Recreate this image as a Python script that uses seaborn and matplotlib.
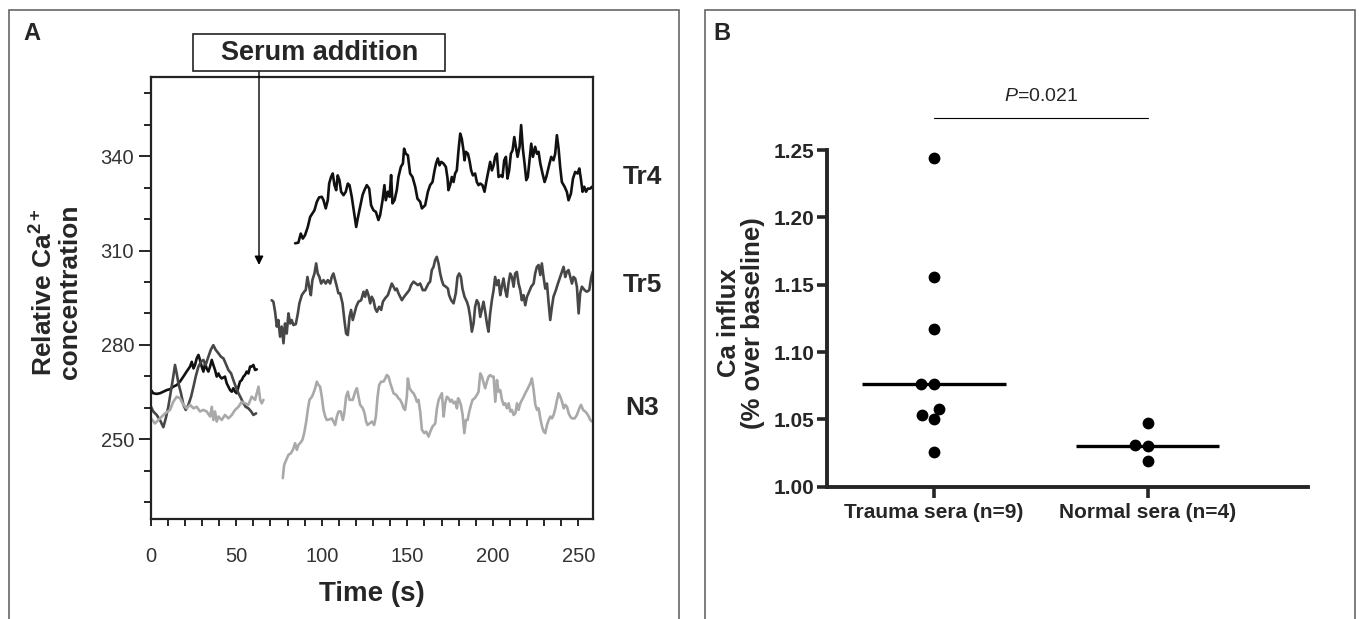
import pandas as pd
import matplotlib
matplotlib.use("Agg")
import matplotlib.pyplot as plt
from matplotlib.patches import Rectangle
from matplotlib.ticker import MultipleLocator, FormatStrFormatter
import seaborn as sns

# --- Panel A: calcium traces (time s, relative Ca2+) ---
TR4_PRE = [(0.2, 265.6), (1.5, 264.6), (3.5, 264.4), (5.4, 264.6), (7.4, 265.1), (9.3, 265.6),
           (11.3, 265.9), (13.2, 266.7), (15.2, 267.2), (17.1, 268.3), (19.1, 269.9), (21.0, 271.5),
           (23.0, 273.1), (24.0, 274.6), (25.0, 272.5), (25.9, 273.6), (26.9, 275.7), (27.9, 276.8),
           (28.8, 275.2), (29.8, 273.1), (30.8, 271.5), (31.8, 274.1), (32.7, 272.5), (33.7, 271.5),
           (34.7, 273.1), (35.7, 275.2), (36.6, 273.6), (37.6, 272.0), (38.6, 269.9), (39.6, 270.9),
           (40.5, 269.9), (41.5, 269.3), (43.4, 269.9), (44.4, 267.8), (45.4, 266.7), (46.4, 265.6),
           (47.4, 265.1), (48.3, 266.2), (49.3, 265.1), (50.3, 264.6), (51.3, 266.7), (52.2, 268.3),
           (53.2, 268.8), (54.2, 269.9), (55.1, 270.4), (56.1, 271.5), (57.1, 270.9), (58.1, 273.1),
           (59.0, 273.1), (60.0, 273.6), (61.0, 272.0), (62.0, 272.2)]
TR4_POST = [(84.4, 312.3), (86.3, 312.5), (87.7, 315.4), (88.9, 313.8), (90.2, 314.9), (91.8, 317.5),
            (93.2, 320.7), (94.5, 321.8), (95.7, 322.8), (97.1, 325.5), (98.4, 326.9), (100.0, 327.1),
            (101.0, 326.0), (102.3, 323.4), (103.5, 326.0), (104.3, 331.3), (105.4, 333.4), (106.4, 334.5),
            (107.4, 330.8), (108.4, 329.2), (109.3, 333.9), (110.3, 332.4), (111.3, 328.7), (112.7, 327.6),
            (114.0, 328.7), (115.2, 331.3), (116.2, 330.8), (117.5, 327.1), (118.9, 321.8), (120.1, 317.5),
            (121.0, 320.2), (122.4, 323.9), (123.8, 327.6), (124.9, 329.2), (126.3, 330.8), (127.7, 329.7),
            (128.8, 324.4), (130.2, 322.8), (131.6, 322.3), (133.1, 319.7), (134.1, 321.3), (135.5, 326.0),
            (136.6, 330.8), (137.4, 326.0), (138.6, 328.7), (139.6, 327.1), (140.5, 334.0), (141.3, 325.0),
            (142.5, 326.0), (143.8, 329.2), (144.8, 333.4), (146.2, 336.6), (147.4, 337.7), (148.1, 342.4),
            (149.1, 340.8), (150.3, 340.3), (151.6, 334.5), (153.0, 333.4), (154.6, 330.3), (155.9, 326.5),
            (157.5, 325.5), (158.5, 323.4), (160.4, 324.4), (162.0, 328.7), (163.3, 330.8), (164.7, 331.8),
            (165.9, 335.5), (166.8, 337.7), (167.8, 339.3), (168.8, 337.1), (169.8, 338.2), (171.1, 337.7),
            (172.5, 336.6), (173.5, 332.9), (174.0, 329.2), (175.0, 330.8), (176.0, 333.4), (177.0, 331.8),
            (177.9, 334.5), (178.9, 335.5), (179.9, 341.9), (180.9, 347.2), (181.8, 345.6), (182.8, 341.9),
            (183.4, 338.7), (184.2, 341.4), (185.4, 340.8), (186.3, 338.7), (187.3, 335.5), (188.3, 333.9),
            (189.6, 334.5), (190.6, 331.8), (191.6, 330.8), (192.6, 331.3), (193.9, 330.8), (195.1, 328.7),
            (196.1, 331.8), (197.4, 335.5), (198.4, 338.2), (199.4, 335.5), (200.4, 337.1), (201.3, 339.8),
            (202.3, 340.8), (203.3, 333.4), (204.6, 333.9), (205.6, 333.4), (206.6, 338.7), (207.6, 339.8),
            (208.5, 332.9), (209.5, 335.5), (210.5, 340.8), (211.5, 341.9), (212.5, 346.1), (213.4, 343.0),
            (214.4, 339.8), (215.6, 343.0), (216.5, 349.9), (217.5, 342.4), (218.5, 337.7), (219.5, 332.4),
            (220.4, 333.4), (221.4, 338.7), (222.4, 344.0), (223.4, 339.8), (224.7, 343.0), (225.7, 340.8),
            (226.7, 341.4), (227.7, 337.7), (229.0, 334.5), (230.2, 331.8), (231.2, 333.4), (232.1, 335.5),
            (233.1, 337.7), (234.1, 339.8), (235.4, 338.7), (236.4, 340.8), (237.4, 346.7), (238.4, 342.4),
            (239.3, 336.6), (240.3, 331.8), (241.9, 330.3), (243.2, 328.7), (244.2, 326.0), (245.6, 328.1),
            (246.8, 332.9), (248.1, 335.0), (249.5, 334.5), (250.5, 336.1), (251.4, 332.9), (252.4, 328.7),
            (253.4, 330.3), (254.4, 328.7), (255.5, 329.7), (256.9, 329.7), (257.9, 330.3)]

TR5_PRE = [(0.2, 260.3), (1.5, 258.8), (3.5, 257.7), (5.4, 256.1), (7.4, 253.8), (8.8, 256.6),
           (10.3, 260.3), (11.9, 265.6), (13.2, 269.9), (14.2, 273.6), (15.2, 270.9), (16.2, 267.8),
           (17.7, 264.6), (19.1, 260.9), (20.5, 259.3), (22.0, 260.9), (23.6, 263.5), (25.0, 266.7),
           (26.3, 269.9), (27.9, 273.1), (29.4, 274.6), (30.8, 275.2), (32.1, 273.6), (33.7, 276.2),
           (35.1, 278.4), (36.6, 279.9), (38.0, 278.4), (39.6, 277.3), (41.1, 276.2), (42.5, 275.7),
           (43.8, 274.1), (45.4, 272.0), (47.0, 270.9), (48.3, 268.8), (49.7, 266.7), (51.3, 264.6),
           (52.8, 263.0), (54.2, 261.4), (55.5, 260.3), (57.1, 259.8), (58.7, 258.8), (60.0, 257.7),
           (61.6, 258.2)]
TR5_POST = [(70.7, 294.2), (71.7, 293.7), (72.7, 290.5), (73.7, 285.8), (74.6, 287.9), (75.6, 282.6),
            (76.6, 285.8), (77.6, 280.5), (78.5, 286.8), (79.5, 283.6), (80.5, 290.0), (81.5, 286.8),
            (82.4, 287.9), (83.4, 286.3), (84.8, 286.6), (86.0, 290.0), (86.9, 293.2), (88.3, 295.8),
            (89.7, 296.9), (90.6, 297.4), (91.6, 301.6), (92.6, 298.5), (93.6, 295.8), (94.5, 300.6),
            (95.7, 302.7), (96.7, 305.9), (97.6, 302.7), (98.6, 301.6), (99.6, 299.5), (101.0, 300.6),
            (102.3, 299.5), (103.5, 300.6), (104.9, 299.5), (105.8, 301.6), (106.8, 302.7), (107.8, 300.6),
            (108.8, 298.5), (109.7, 296.4), (110.7, 296.4), (112.1, 293.2), (113.2, 287.9), (114.2, 283.6),
            (115.2, 283.1), (116.2, 288.9), (117.1, 291.1), (118.1, 287.9), (119.1, 290.0), (120.1, 292.1),
            (121.4, 293.7), (123.0, 294.2), (124.4, 296.9), (125.3, 295.3), (126.3, 297.4), (127.3, 295.8),
            (128.3, 293.2), (129.2, 295.3), (130.2, 294.2), (131.2, 291.6), (132.2, 290.5), (133.5, 292.1),
            (134.7, 291.1), (135.7, 293.7), (137.0, 294.8), (138.6, 295.8), (139.9, 297.9), (140.9, 299.5),
            (141.9, 298.5), (142.9, 297.4), (143.8, 297.9), (144.8, 296.4), (145.8, 295.3), (146.8, 294.2),
            (148.1, 295.3), (149.7, 296.4), (151.1, 297.4), (152.2, 299.0), (153.6, 300.1), (155.0, 299.5),
            (156.1, 299.0), (157.5, 299.5), (159.0, 297.4), (160.4, 297.4), (161.4, 298.5), (162.3, 299.5),
            (163.3, 300.1), (164.3, 303.8), (165.3, 304.8), (166.2, 306.9), (167.2, 308.0), (168.2, 305.9),
            (169.2, 302.7), (170.1, 300.6), (171.1, 299.0), (172.5, 298.5), (173.7, 297.9), (174.4, 295.8),
            (175.6, 294.2), (177.0, 293.2), (178.3, 296.4), (179.3, 301.6), (180.3, 302.7), (181.3, 301.6),
            (182.2, 297.9), (183.4, 295.3), (184.8, 293.7), (185.7, 292.1), (186.7, 288.9), (187.7, 284.2),
            (188.7, 286.8), (189.6, 292.1), (190.6, 294.2), (191.6, 293.2), (192.6, 288.9), (193.5, 291.1),
            (194.5, 293.7), (195.5, 290.5), (196.5, 286.8), (197.4, 284.2), (198.4, 290.0), (199.4, 294.2),
            (200.4, 297.4), (201.3, 301.6), (202.3, 299.0), (203.3, 300.6), (204.3, 295.8), (205.2, 298.5),
            (206.2, 301.1), (207.2, 297.4), (208.2, 295.3), (209.1, 299.5), (210.1, 302.7), (211.1, 301.6),
            (212.1, 298.5), (213.0, 302.7), (214.0, 303.2), (215.0, 299.5), (216.0, 297.4), (216.9, 294.2),
            (217.9, 295.8), (218.9, 292.6), (219.9, 295.3), (220.8, 296.4), (222.4, 298.5), (223.8, 299.5),
            (224.7, 302.7), (225.7, 304.8), (226.7, 305.4), (227.7, 302.2), (228.6, 305.9), (229.6, 301.6),
            (230.6, 297.9), (231.6, 299.5), (232.5, 293.7), (233.5, 287.9), (234.5, 292.1), (235.4, 295.3),
            (236.8, 297.4), (238.0, 299.5), (239.3, 301.6), (240.3, 303.2), (241.3, 304.8), (242.3, 301.6),
            (243.2, 303.2), (244.2, 303.8), (245.2, 301.6), (246.2, 299.5), (247.1, 301.6), (248.1, 301.1),
            (249.1, 298.5), (250.1, 290.0), (251.0, 296.4), (252.0, 298.5), (253.6, 297.4), (254.9, 296.9),
            (256.3, 297.4), (257.5, 301.6), (258.3, 303.2)]

N3_PRE = [(0.2, 256.6), (2.5, 255.0), (5.4, 256.6), (8.4, 258.2), (11.3, 259.3), (13.2, 261.9),
          (15.2, 263.5), (17.1, 263.0), (19.1, 260.9), (21.0, 259.8), (23.0, 260.9), (25.0, 259.8),
          (26.9, 260.3), (28.8, 258.8), (30.8, 259.3), (32.7, 258.8), (34.7, 257.2), (35.7, 260.3),
          (36.6, 256.1), (37.6, 258.8), (38.6, 255.6), (39.6, 257.2), (41.5, 256.1), (43.4, 257.7),
          (45.4, 256.6), (47.4, 257.7), (49.3, 259.3), (51.3, 260.3), (53.2, 261.9), (55.1, 261.4),
          (57.1, 260.9), (59.0, 263.5), (61.0, 262.5), (63.0, 266.7), (64.0, 262.5), (64.9, 261.4),
          (65.9, 262.5)]
N3_POST = [(77.2, 237.6), (78.0, 241.8), (79.2, 243.4), (80.5, 245.0), (81.9, 245.5), (83.1, 246.6),
           (84.4, 248.7), (85.4, 246.6), (86.4, 248.2), (87.3, 248.7), (88.7, 249.8), (89.7, 251.9),
           (90.9, 255.6), (91.8, 259.3), (92.8, 262.5), (94.2, 263.5), (95.1, 264.6), (96.1, 266.2),
           (97.1, 268.3), (98.1, 267.2), (99.0, 266.7), (100.0, 263.5), (101.0, 259.3), (102.0, 257.2),
           (102.9, 256.1), (104.5, 256.3), (105.9, 256.6), (106.8, 255.6), (107.8, 254.5), (108.8, 257.2),
           (109.8, 258.8), (111.1, 258.8), (112.3, 256.1), (113.1, 258.2), (114.2, 263.5), (115.2, 265.1),
           (116.2, 262.5), (117.2, 262.5), (118.1, 262.5), (119.5, 265.1), (120.5, 266.2), (121.5, 263.5),
           (122.4, 260.9), (124.0, 259.8), (125.0, 258.2), (125.9, 255.6), (126.7, 254.5), (127.9, 255.0),
           (129.3, 255.6), (130.6, 254.5), (131.6, 257.2), (132.6, 263.5), (133.5, 267.2), (134.7, 268.3),
           (136.1, 268.3), (137.1, 269.3), (138.0, 270.4), (139.0, 269.9), (140.0, 267.8), (141.0, 266.2),
           (141.9, 264.6), (143.5, 264.1), (144.8, 263.0), (145.8, 262.5), (146.8, 261.4), (147.8, 259.8),
           (148.7, 259.3), (149.7, 263.5), (150.3, 269.3), (151.3, 266.2), (152.6, 265.1), (153.6, 264.6),
           (154.6, 263.5), (155.6, 261.9), (156.5, 262.5), (157.5, 258.8), (158.5, 253.0), (159.9, 251.9),
           (161.0, 252.4), (162.4, 250.8), (163.4, 252.4), (164.7, 254.0), (166.3, 255.0), (167.3, 259.8),
           (168.3, 262.5), (169.2, 263.5), (170.2, 264.6), (171.2, 257.2), (172.1, 261.4), (173.1, 263.5),
           (174.1, 263.0), (175.1, 261.9), (176.0, 262.5), (177.0, 261.4), (178.0, 261.9), (179.0, 259.8),
           (179.6, 263.0), (180.3, 262.5), (181.3, 260.9), (182.3, 257.7), (183.3, 251.9), (184.2, 256.1),
           (185.2, 256.1), (186.2, 258.8), (187.2, 260.9), (188.1, 262.5), (189.3, 263.0), (190.7, 264.1),
           (191.6, 265.1), (192.6, 270.9), (193.6, 269.9), (194.6, 267.8), (195.5, 266.2), (196.5, 268.3),
           (197.5, 269.9), (198.5, 270.4), (199.4, 269.9), (200.4, 269.9), (201.4, 261.9), (202.4, 268.8),
           (203.3, 265.1), (204.3, 265.6), (205.3, 262.5), (206.3, 260.9), (207.2, 261.4), (208.2, 259.8),
           (209.2, 261.4), (210.2, 258.8), (211.1, 259.3), (212.1, 257.7), (213.1, 258.2), (214.1, 261.4),
           (215.0, 259.3), (216.0, 261.4), (217.0, 262.5), (218.0, 263.5), (218.9, 264.6), (219.9, 265.6),
           (220.9, 266.7), (221.9, 267.8), (222.8, 269.3), (223.8, 265.6), (224.8, 260.9), (225.8, 259.3),
           (226.7, 259.8), (227.7, 256.6), (228.7, 254.0), (229.7, 252.4), (230.6, 251.9), (231.6, 254.5),
           (232.6, 256.1), (233.6, 257.2), (234.5, 256.6), (235.5, 257.7), (236.5, 259.8), (237.5, 262.5),
           (238.4, 264.6), (239.4, 263.5), (240.4, 261.9), (241.4, 259.8), (242.3, 260.9), (243.3, 260.3),
           (244.3, 258.2), (245.2, 257.2), (246.2, 256.6), (247.8, 256.6), (249.1, 257.7), (250.5, 259.8),
           (251.5, 260.9), (252.7, 259.3), (253.9, 258.8), (254.9, 258.2), (256.0, 257.2), (256.9, 256.1),
           (257.9, 255.6)]

TRACE_NAMES = ["Tr4", "Tr5", "N3"]
TRACE_COLORS = {"Tr4": "#111111", "Tr5": "#474747", "N3": "#a9a9a9"}
LABEL_Y = {"Tr4": 333.5, "Tr5": 299.0, "N3": 260.0}
SERUM_T = 63.3          # time where the arrow points
SERUM_Y = 305.4

# --- Panel B: Ca influx per serum sample ---
GROUPS = ["Trauma sera (n=9)", "Normal sera (n=4)"]
TRAUMA = [1.244, 1.156, 1.117, 1.076, 1.076, 1.058, 1.053, 1.050, 1.026]
NORMAL = [1.047, 1.031, 1.030, 1.019]
P_TEXT = "0.021"

W, H = 1359, 619


def traces_frame():
    rows = []
    segs = {"Tr4": (TR4_PRE, TR4_POST), "Tr5": (TR5_PRE, TR5_POST), "N3": (N3_PRE, N3_POST)}
    for name in TRACE_NAMES:
        for part, seg in zip(["pre", "post"], segs[name]):
            for t, v in seg:
                rows.append((name, f"{name}-{part}", t, v))
    return pd.DataFrame(rows, columns=["trace", "segment", "time", "value"])


sns.set_style("ticks")
plt.rcParams["font.family"] = ["Liberation Sans", "DejaVu Sans"]
plt.rcParams["mathtext.fontset"] = "custom"
plt.rcParams["mathtext.rm"] = "Liberation Sans"
plt.rcParams["mathtext.it"] = "Liberation Sans:italic"
plt.rcParams["mathtext.bf"] = "Liberation Sans:bold"

fig = plt.figure(figsize=(W / 100, H / 100), dpi=100)

# panel frames
for x0, x1 in [(9, 679), (705, 1355)]:
    fig.add_artist(Rectangle((x0 / W, -0.05), (x1 - x0) / W, 1.05 - 10 / H,
                             transform=fig.transFigure, fill=False, lw=1.2, ec="#666666"))
fig.text(32 / W, 1 - 33 / H, "A", fontsize=17, fontweight="bold", ha="center", va="center")
fig.text(722 / W, 1 - 33 / H, "B", fontsize=17, fontweight="bold", ha="center", va="center")

# ---------------- Panel A ----------------
axA = fig.add_axes([150.7 / W, 1 - 519 / H, (593 - 150.7) / W, (519 - 77) / H])
df = traces_frame()
sns.lineplot(data=df, x="time", y="value", hue="trace", units="segment", estimator=None,
             palette=TRACE_COLORS, hue_order=TRACE_NAMES, lw=1.9, legend=False, ax=axA)
axA.set_xlim(0, 258.5)
axA.set_ylim(224.6, 365.2)
axA.xaxis.set_major_locator(MultipleLocator(50))
axA.xaxis.set_minor_locator(MultipleLocator(10))
axA.yaxis.set_major_locator(MultipleLocator(30))
axA.yaxis.set_minor_locator(MultipleLocator(10))
axA.set_yticks([250, 280, 310, 340])
for s in axA.spines.values():
    s.set_linewidth(1.6)
    s.set_color("#222222")
axA.tick_params(axis="y", which="major", length=9, width=1.4, labelsize=14.5,
                labelcolor="#333333", pad=3)
axA.tick_params(axis="y", which="minor", length=5, width=1.4)
axA.tick_params(axis="x", which="both", length=5, width=1.4)
axA.tick_params(axis="x", which="major", labelsize=14.5, labelcolor="#333333", pad=15)
axA.set_xlabel("Time (s)", fontsize=20, fontweight="bold", labelpad=11)
axA.set_ylabel("")
fig.text(56 / W, 1 - 292 / H, "Relative Ca$^{\\mathbf{2+}}$\nconcentration", rotation=90,
         ha="center", va="center", fontsize=19, fontweight="bold", linespacing=1.05)

for name in TRACE_NAMES:
    axA.text(287.3, LABEL_Y[name], name, fontsize=19,
             fontweight="bold" if name != "N3" else "semibold",
             ha="center", va="center", clip_on=False)

# serum addition box + arrow
fig.add_artist(Rectangle((193.4 / W, 1 - 71.4 / H), 252 / W, 37.4 / H, transform=fig.transFigure,
                         fill=False, lw=1.2, ec="#222222"))
fig.text(319.5 / W, 1 - 53.5 / H, "Serum addition", ha="center", va="center",
         fontsize=19.5, fontweight="bold")
y_top = axA.transData.inverted().transform((0, H - 71.4))[1]
axA.annotate("", xy=(SERUM_T, SERUM_Y), xytext=(SERUM_T, y_top), annotation_clip=False,
             arrowprops=dict(arrowstyle="-|>", lw=1.0, color="black",
                             mutation_scale=13, shrinkA=0, shrinkB=0))

# ---------------- Panel B ----------------
axB = fig.add_axes([826.7 / W, 1 - 486.7 / H, (1308 - 826.7) / W, (486.7 - 150) / H])
dfB = pd.DataFrame({"group": [GROUPS[0]] * len(TRAUMA) + [GROUPS[1]] * len(NORMAL),
                    "value": TRAUMA + NORMAL})
sns.swarmplot(data=dfB, x="group", y="value", order=GROUPS, color="black", size=8.5, ax=axB)
med = dfB.groupby("group")["value"].median()
for i, g in enumerate(GROUPS):
    axB.hlines(med[g], i - 0.336, i + 0.336, color="black", lw=2.4, zorder=3)
axB.set_xlim(-0.5, 1.75)
axB.set_ylim(1.0, 1.25)
axB.yaxis.set_major_locator(MultipleLocator(0.05))
axB.yaxis.set_major_formatter(FormatStrFormatter("%.2f"))
sns.despine(ax=axB)
for s in ["left", "bottom"]:
    axB.spines[s].set_linewidth(2.8)
axB.tick_params(axis="y", length=7, width=2.6, labelsize=15, pad=2)
axB.tick_params(axis="x", length=8, width=2.6, labelsize=15, pad=4)
for lab in axB.get_xticklabels() + axB.get_yticklabels():
    lab.set_fontweight("bold")
axB.set_xlabel("")
axB.set_ylabel("")
fig.text(741 / W, 1 - 323 / H, "Ca influx\n(% over baseline)", rotation=90, ha="center",
         va="center", fontsize=18.5, fontweight="bold", linespacing=1.0)

# significance bar
axB.plot([0, 1], [1.2735, 1.2735], color="black", lw=0.8, clip_on=False)
axB.text(0.5, 1.2896, "$\\mathit{P}$=" + P_TEXT, ha="center", va="center", fontsize=14,
         clip_on=False)

fig.savefig("out.png", dpi=100)
